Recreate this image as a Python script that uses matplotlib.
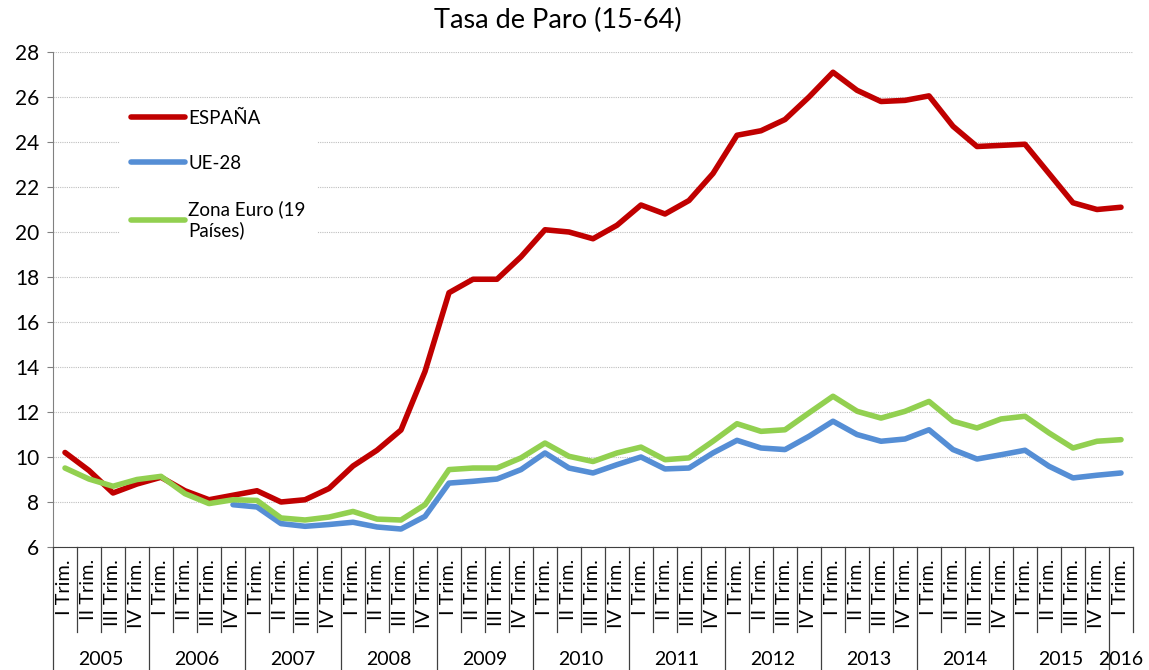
import matplotlib.pyplot as plt
import numpy as np

plt.rcParams['font.family'] = ['Lato', 'DejaVu Sans']

# Datos trimestrales 2005 I - 2016 I
trimestres = ['I Trim.', 'II Trim.', 'III Trim.', 'IV Trim.'] * 11 + ['I Trim.']
anios = ['2005', '2006', '2007', '2008', '2009', '2010', '2011', '2012',
         '2013', '2014', '2015', '2016']

espana = [10.2, 9.4, 8.4, 8.8, 9.1, 8.5, 8.1, 8.3, 8.5, 8.0, 8.1, 8.6,
          9.6, 10.3, 11.2, 13.8, 17.3, 17.9, 17.9, 18.9, 20.1, 20.0, 19.7, 20.3,
          21.2, 20.8, 21.4, 22.6, 24.3, 24.5, 25.0, 26.0, 27.1, 26.3, 25.8, 25.85,
          26.05, 24.7, 23.8, 23.85, 23.9, 22.6, 21.3, 21.0, 21.1]

ue28 = [np.nan] * 7 + [7.88, 7.78, 7.04, 6.92, 7.0,
        7.1, 6.89, 6.8, 7.36, 8.84, 8.92, 9.02, 9.44, 10.18, 9.51, 9.29, 9.66,
        10.0, 9.47, 9.51, 10.18, 10.74, 10.4, 10.33, 10.92, 11.59, 11.0, 10.7, 10.8,
        11.21, 10.33, 9.91, 10.1, 10.3, 9.59, 9.07, 9.19, 9.29]

zona_euro = [9.51, 9.02, 8.7, 9.0, 9.14, 8.37, 7.93, 8.1, 8.07, 7.29, 7.2, 7.33,
             7.58, 7.24, 7.2, 7.88, 9.44, 9.51, 9.51, 9.96, 10.62, 10.03, 9.8, 10.18,
             10.44, 9.88, 9.96, 10.7, 11.48, 11.14, 11.21, 11.96, 12.7, 12.03, 11.73, 12.03,
             12.47, 11.59, 11.29, 11.69, 11.81, 11.07, 10.4, 10.7, 10.77]

x = np.arange(len(trimestres))

fig = plt.figure(figsize=(11.49, 6.70), dpi=100)
ax = fig.add_axes([53 / 1149, 1 - 547 / 670, 1080 / 1149, 495 / 670])

estilo = dict(lw=4.0, solid_capstyle='round', solid_joinstyle='round')
ax.plot(x, espana, color='#C00000', label='ESPAÑA', **estilo)
ax.plot(x, ue28, color='#558ED5', label='UE-28', **estilo)
ax.plot(x, zona_euro, color='#92D050', label='Zona Euro (19\nPaíses)', **estilo)

ax.set_xlim(-0.5, len(x) - 0.5)
ax.set_ylim(6, 28)
ax.set_yticks(np.arange(6, 29, 2))
ax.yaxis.grid(True, linestyle=(0, (1, 1)), color='#BFBFBF', lw=0.8)
ax.set_axisbelow(True)
ax.tick_params(axis='y', labelsize=15, length=4, pad=6, color='#808080')
ax.set_xticks([])
for s in ['top', 'right']:
    ax.spines[s].set_visible(False)
ax.spines['left'].set_color('#808080')
ax.spines['bottom'].set_color('#404040')

# etiquetas de trimestre y separadores
trans = ax.get_xaxis_transform()
for i, lab in enumerate(trimestres):
    ax.text(i, -0.024, lab, rotation=90, ha='center', va='top', fontsize=14.3,
            transform=trans)
for k in range(len(x) + 1):
    bajo = -0.248 if (k % 4 == 0 or k == len(x) - 1) and k < len(x) else -0.172
    ax.plot([k - 0.5, k - 0.5], [0, bajo], color='#404040', lw=0.9,
            transform=trans, clip_on=False)

# etiquetas de año
for j, a in enumerate(anios):
    centro = min(4 * j + 1.5, len(x) - 1)
    ax.text(centro, -0.228, a, ha='center', va='center', fontsize=14,
            transform=trans)

leg = ax.legend(loc='upper left', bbox_to_anchor=(0.053, 0.925), fontsize=13.5,
                frameon=True, fancybox=False, handlelength=2.9,
                handletextpad=0.15, labelspacing=1.5, borderpad=0.6)
leg.get_frame().set_edgecolor('none')
leg.get_frame().set_facecolor('white')
leg.get_frame().set_alpha(1)

fig.text(558 / 1149, 1 - 20 / 670, 'Tasa de Paro (15-64)', ha='center',
         va='center', fontsize=19.5)

fig.savefig('out.png', dpi=100)
